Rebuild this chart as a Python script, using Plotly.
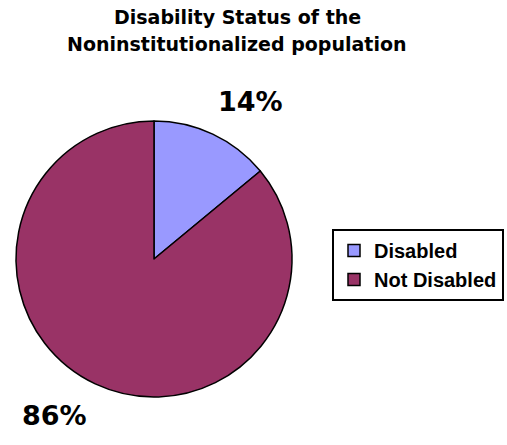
import plotly.graph_objects as go

categories = ["Disabled", "Not Disabled"]
values = [14, 86]
colors = ["#9999FF", "#993366"]
title_lines = ["Disability Status of the", "Noninstitutionalized population"]

W, H = 507, 445
FONT = "DejaVu Sans, Liberation Sans, Arial, sans-serif"
LEGEND_FONT = "Liberation Sans, Arial, sans-serif"


def px(x):
    return x / W


def py(y):
    return (H - y) / H


fig = go.Figure(go.Pie(
    labels=categories,
    values=values,
    sort=False,
    direction="clockwise",
    rotation=0,
    marker=dict(colors=colors, line=dict(color="black", width=1.5)),
    textinfo="none",
    hoverinfo="label+percent",
    domain=dict(x=[px(16), px(292)], y=[py(397), py(121)]),
))

total = sum(values)
label_pos = [(px(250), py(102)), (px(54), py(415))]
for v, (lx, ly) in zip(values, label_pos):
    fig.add_annotation(
        text=f"{v / total * 100:.0f}%", x=lx, y=ly, xref="paper", yref="paper",
        showarrow=False, xanchor="center", yanchor="middle",
        font=dict(family=FONT, size=27, color="black", weight="bold"),
    )

title_y = [17, 44]
for line, ty in zip(title_lines, title_y):
    fig.add_annotation(
        text=line, x=px(237), y=py(ty), xref="paper", yref="paper",
        showarrow=False, xanchor="center", yanchor="middle",
        font=dict(family=FONT, size=19, color="black", weight="bold"),
    )

fig.update_layout(
    width=W, height=H, autosize=False,
    margin=dict(l=0, r=0, t=0, b=0, autoexpand=False),
    paper_bgcolor="white", plot_bgcolor="white",
    legend=dict(
        x=px(332), y=py(229), xanchor="left", yanchor="top",
        bordercolor="black", borderwidth=2, bgcolor="white",
        font=dict(family=LEGEND_FONT, size=20, color="black", weight="bold"),
        itemwidth=30,
    ),
)

fig.write_html(
    "out.html",
    config={"displayModeBar": False, "responsive": False},
    post_script="document.body.style.margin='0';document.body.style.overflow='hidden';",
)
